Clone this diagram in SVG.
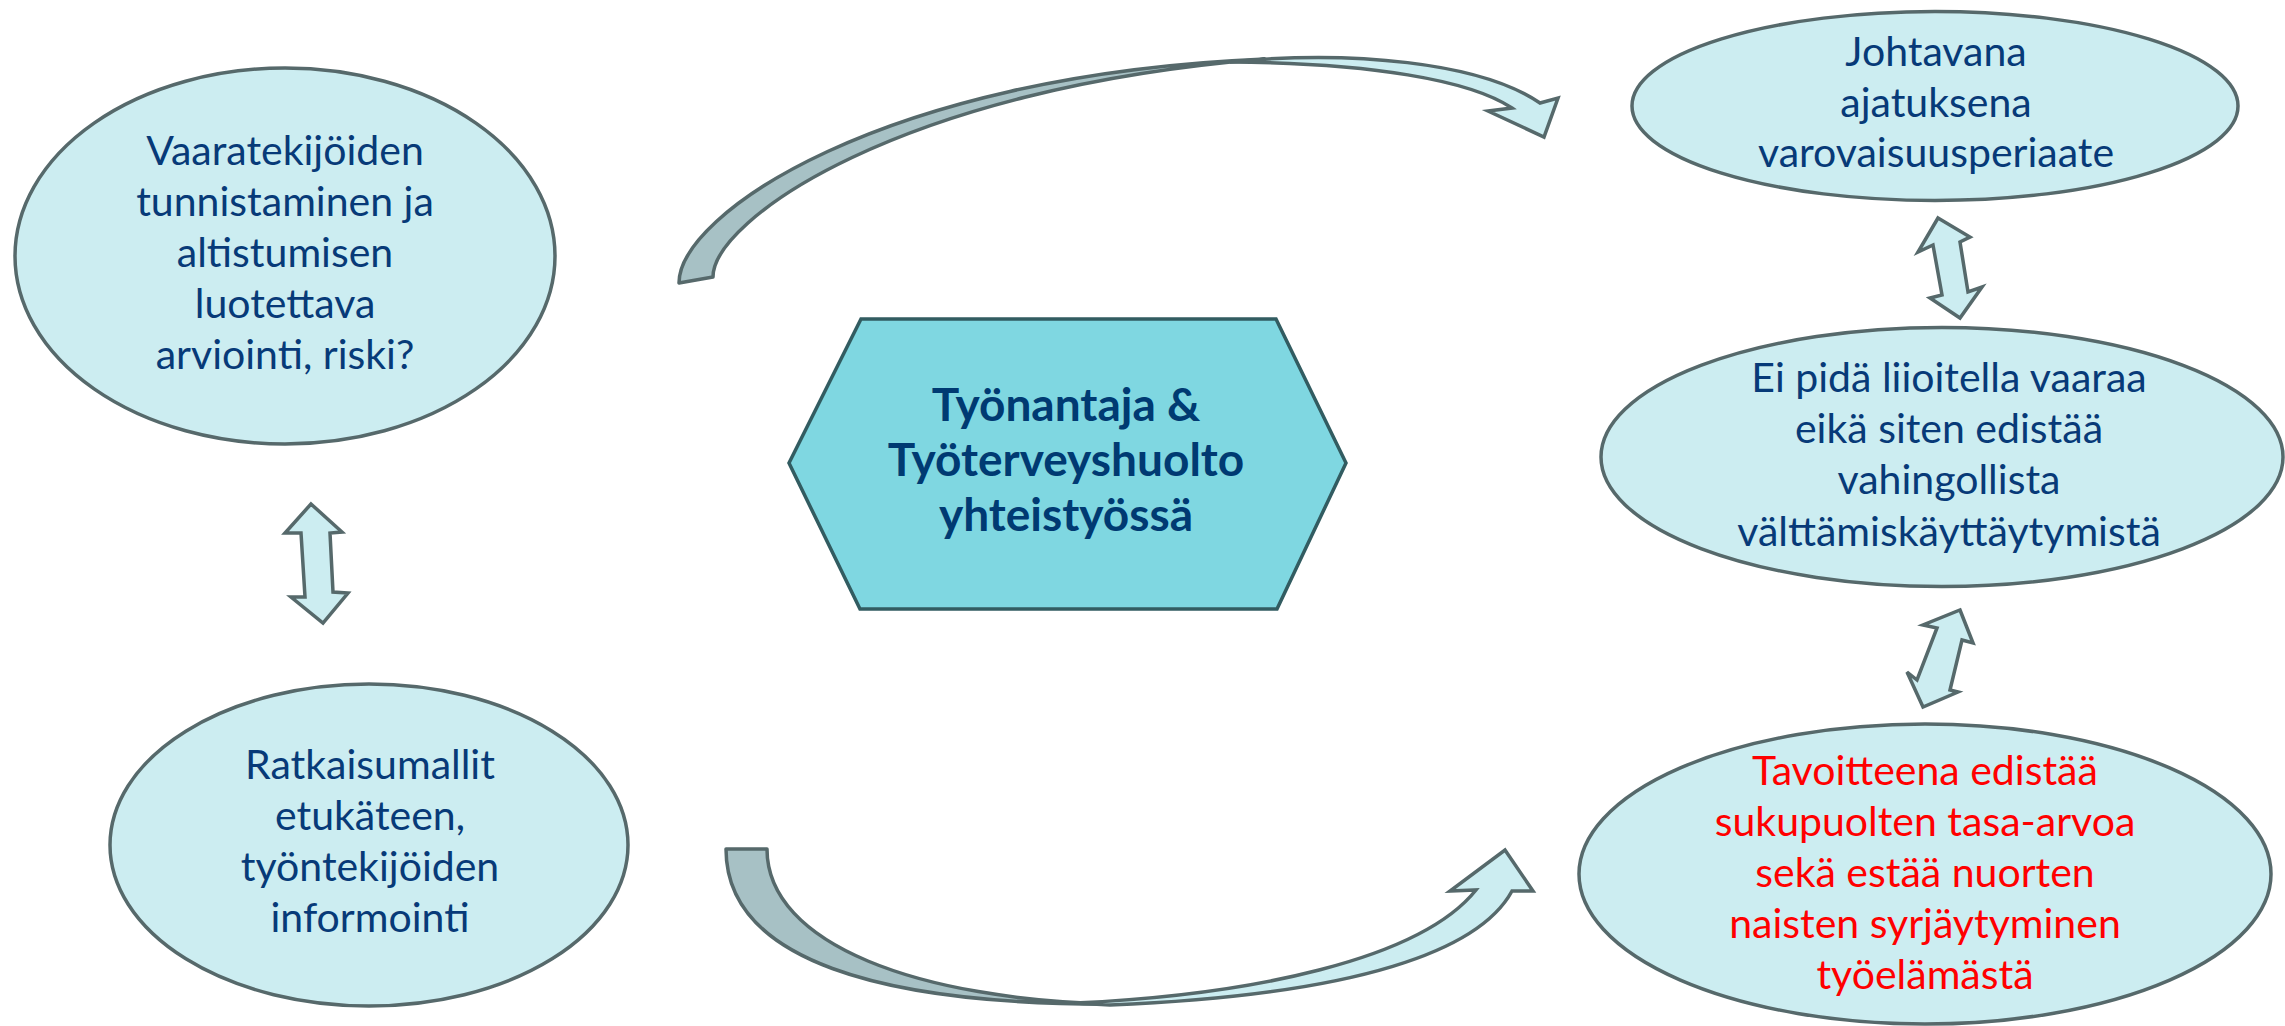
<svg xmlns="http://www.w3.org/2000/svg" width="2285" height="1026" viewBox="0 0 2285 1026">
<style>
.ell{fill:#ccedf1;stroke:#56696b;stroke-width:3.5}
.hex{fill:#7fd7e1;stroke:#325c61;stroke-width:3.5}
.t{font-family:Lato,"Open Sans","Liberation Sans",sans-serif;font-size:41px;fill:#073a78;text-anchor:middle}
.red{fill:#ff0000}
.hb{font-family:Lato,"Open Sans","Liberation Sans",sans-serif;font-size:46px;font-weight:bold;fill:#003a72;text-anchor:middle}
.dk{fill:#a7c1c5;stroke:#56696b;stroke-width:3.5;stroke-linejoin:round}
.lt{fill:#ccedf1;stroke:#56696b;stroke-width:3.5;stroke-linejoin:miter}
</style>
<rect width="2285" height="1026" fill="#ffffff"/>

<g id="connectors">
  <!-- top curved arrow -->
  <path class="dk" d="M679,283 C679,215 880,75 1265,59 C900,88 713,220 713,277 Z"/>
  <path class="lt" d="M1230,62 C1350,50 1480,62 1540,103 L1558,98 L1544,137 L1488,111 L1512,108 C1470,80 1370,63 1230,62 Z"/>
  <!-- bottom curved arrow -->
  <path class="dk" d="M726,849 L767,849 C767,945 920,1000 1115,1004 C880,1005 726,960 726,849 Z"/>
  <path class="lt" d="M1075,1003 C1250,995 1420,960 1476,890 L1450,891 L1505,850 L1533,891 L1512,891 C1480,950 1360,995 1110,1005 Z"/>
  <!-- double arrows -->
  <polygon class="lt" points="311,504 342,532 330,533 333,592 348,593 323,623 291,597 305,597 301,533 285,533"/>
  <polygon class="lt" points="1938,218 1970,237 1960,242 1968,292 1982,287 1960,318 1930,298 1942,295 1933,245 1918,252"/>
  <polygon class="lt" points="1960,610 1973,643 1962,640 1950,690 1958,692 1923,707 1907,672 1917,680 1937,628 1923,625"/>
</g>

<g id="node-hazard">
  <ellipse class="ell" cx="285" cy="256" rx="270" ry="188"/>
  <text class="t" x="285" y="165">Vaaratekijöiden</text>
  <text class="t" x="285" y="216">tunnistaminen ja</text>
  <text class="t" x="285" y="267">altistumisen</text>
  <text class="t" x="285" y="318">luotettava</text>
  <text class="t" x="285" y="369">arviointi, riski?</text>
</g>

<g id="node-solutions">
  <ellipse class="ell" cx="369" cy="845" rx="259" ry="161"/>
  <text class="t" x="370" y="779">Ratkaisumallit</text>
  <text class="t" x="370" y="830">etukäteen,</text>
  <text class="t" x="370" y="881">työntekijöiden</text>
  <text class="t" x="370" y="932">informointi</text>
</g>

<g id="node-center">
  <polygon class="hex" points="861,319 1276,319 1346,463 1277,609 860,609 789,463"/>
  <text class="hb" x="1066" y="421">Työnantaja &amp;</text>
  <text class="hb" x="1066" y="476">Työterveyshuolto</text>
  <text class="hb" x="1066" y="531">yhteistyössä</text>
</g>

<g id="node-principle">
  <ellipse class="ell" cx="1935" cy="106" rx="303" ry="94.5"/>
  <text class="t" x="1936" y="66">Johtavana</text>
  <text class="t" x="1936" y="117">ajatuksena</text>
  <text class="t" x="1936" y="167">varovaisuusperiaate</text>
</g>

<g id="node-exaggerate">
  <ellipse class="ell" cx="1942" cy="457" rx="341" ry="129.5"/>
  <text class="t" x="1949" y="392">Ei pidä liioitella vaaraa</text>
  <text class="t" x="1949" y="443">eikä siten edistää</text>
  <text class="t" x="1949" y="494">vahingollista</text>
  <text class="t" x="1949" y="546">välttämiskäyttäytymistä</text>
</g>

<g id="node-goal">
  <ellipse class="ell" cx="1925" cy="874" rx="346" ry="150"/>
  <text class="t red" x="1925" y="785">Tavoitteena edistää</text>
  <text class="t red" x="1925" y="836">sukupuolten tasa-arvoa</text>
  <text class="t red" x="1925" y="887">sekä estää nuorten</text>
  <text class="t red" x="1925" y="938">naisten syrjäytyminen</text>
  <text class="t red" x="1925" y="989">työelämästä</text>
</g>
</svg>
